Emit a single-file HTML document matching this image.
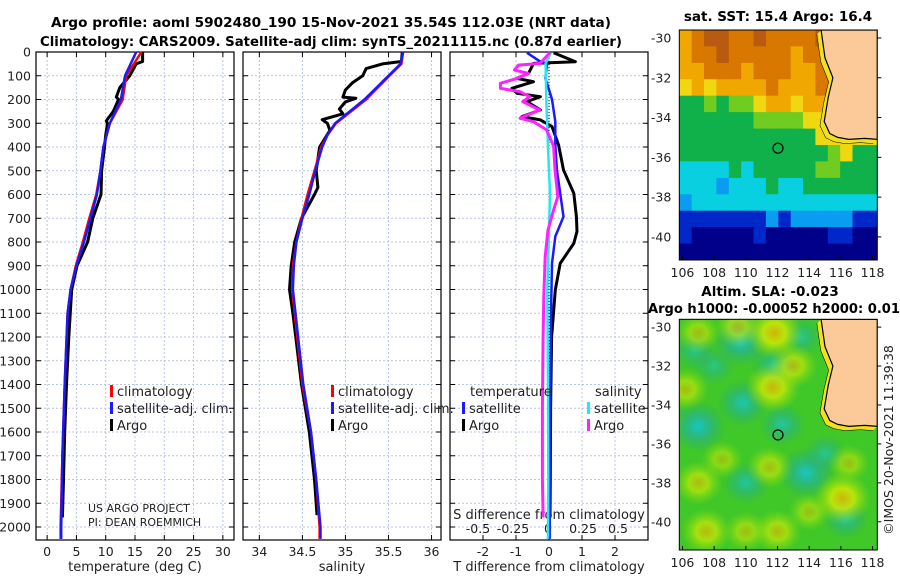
<!DOCTYPE html>
<html><head><meta charset="utf-8">
<style>
html,body{margin:0;padding:0;background:#fff;}
svg{display:block;font-family:"DejaVu Sans","Liberation Sans",sans-serif;}
.t{font-family:"DejaVu Sans","Liberation Sans",sans-serif;font-weight:bold;font-size:13.5px;fill:#000;}
.tk{font-size:12.5px;fill:#222;}
</style></head>
<body>
<svg id="s" width="900" height="580" viewBox="0 0 900 580" xmlns="http://www.w3.org/2000/svg">
<text class="t" x="331" y="27" text-anchor="middle" textLength="560" lengthAdjust="spacingAndGlyphs">Argo profile: aoml 5902480_190 15-Nov-2021 35.54S 112.03E (NRT data)</text>
<text class="t" x="331" y="46" text-anchor="middle" textLength="582" lengthAdjust="spacingAndGlyphs">Climatology: CARS2009. Satellite-adj clim: synTS_20211115.nc (0.87d earlier)</text>
<text class="t" x="778" y="21" text-anchor="middle">sat. SST: 15.4 Argo: 16.4</text>
<text class="t" x="770" y="296" text-anchor="middle">Altim. SLA: -0.023</text>
<text class="t" x="774" y="313" text-anchor="middle" textLength="252" lengthAdjust="spacingAndGlyphs">Argo h1000: -0.00052 h2000: 0.01</text>
<text x="893" y="440" font-size="12.5" fill="#222" transform="rotate(-90 893 440)" text-anchor="middle">©IMOS 20-Nov-2021 11:39:38</text>
<g id="g"></g>
</svg>
<script>
// ---- profile data (depth m) ----
const tClimDepth=[0,100,200,300,400,500,600,700,800,900,1000,1100,1400,1700,2000,2050];
const tClimVal=[16.1,13.5,12.9,10.7,9.6,9.1,8.4,7.2,6.1,4.9,4.0,3.5,3.0,2.6,2.3,2.3];
const tSatVal=[15.2,13.3,12.6,10.7,9.6,9.1,8.5,7.4,6.3,5.0,4.0,3.5,3.0,2.6,2.4,2.4];
const tArgoDepth=[0,40,50,100,150,190,200,250,290,300,350,400,500,600,700,800,900,1000,1200,1400,1600,1800,1960];
const tArgoVal=[16.3,16.3,15.2,14.1,12.4,11.8,12.2,11.3,10.1,10.3,10.0,9.8,9.3,9.2,7.8,6.9,5.1,4.2,3.7,3.3,3.0,2.8,2.6];
const sClimDepth=[0,50,100,200,300,350,400,500,600,700,800,900,1000,1100,1400,1600,1800,2000,2050];
const sClimVal=[35.67,35.65,35.51,35.24,34.89,34.79,34.72,34.64,34.56,34.49,34.43,34.39,34.38,34.41,34.50,34.60,34.66,34.70,34.70];
const sSatVal=[35.67,35.64,35.50,35.22,34.88,34.79,34.73,34.65,34.58,34.50,34.43,34.40,34.39,34.42,34.51,34.60,34.66,34.71,34.71];
const sArgoDepth=[0,40,50,70,100,130,160,190,195,210,240,260,285,300,330,400,500,570,600,700,800,900,1000,1100,1400,1600,1800,1950];
const sArgoVal=[35.66,35.65,35.43,35.24,35.2,35.08,35.0,34.97,35.12,35.0,34.93,34.97,34.73,34.79,34.82,34.70,34.66,34.68,34.64,34.49,34.41,34.37,34.35,34.39,34.49,34.58,34.64,34.67];
const dTArgoDepth=[3,41,48,90,111,125,153,174,188,209,244,272,286,314,392,497,595,693,756,806,890,1002,1200,1500,1800,1960];
const dTArgoVal=[0.14,0.8,-0.47,-0.62,-0.97,-0.47,-1.12,-0.97,-0.26,-0.67,-0.26,-0.82,-0.26,0.09,0.29,0.44,0.75,0.83,0.85,0.75,0.34,0.19,0.08,0.05,0.04,0.03];
const dTSatDepth=[3,41,48,111,199,293,392,497,595,693,777,890,1100,1500,2000,2050];
const dTSatVal=[-0.67,-0.26,-0.06,-0.11,0.09,0.19,0.19,0.24,0.34,0.44,0.19,0.09,0.06,0.04,0.02,0.02];
const dSArgoDepth=[3,48,55,76,90,111,132,153,167,188,209,244,279,293,328,397,497,609,665,749,861,1030,1200,1500,1800,1960];
const dSArgoVal=[0.014,-0.057,-0.21,-0.24,-0.14,-0.22,-0.34,-0.34,-0.2,-0.13,-0.18,-0.06,-0.2,-0.105,-0.01,0.04,0.05,0.07,0.04,0.0,-0.02,-0.03,-0.035,-0.04,-0.04,-0.035];
const dSSatDepth=[3,48,200,400,600,800,1000,1400,1800,2050];
const dSSatVal=[0.02,-0.017,-0.012,0.0,0.014,0.005,-0.005,0.0,0.002,0.0];
const depthTicks=[0,100,200,300,400,500,600,700,800,900,1000,1100,1200,1300,1400,1500,1600,1700,1800,1900,2000];
const tTicks=[0,5,10,15,20,25,30];
const sTicks=[34,34.5,35,35.5,36];
const dTTicks=[-2,-1,0,1,2];
const dSTickVals=[-0.5,-0.25,0,0.25,0.5];
const dSTickLabels=["-0.5","-0.25","0","0.25","0.5"];
// ---- SST map grid (colour index 0..9, -1 land), rows lat -30.0 .. -40.8, cols lon 106.2 .. 118.0
const sstGrid=[
[7,8,9,9,8,8,9,8,8,8,8,9,-1,-1,-1,-1],
[7,8,8,9,8,8,8,8,8,7,8,8,-1,-1,-1,-1],
[7,7,8,8,8,7,8,8,8,7,7,8,-1,-1,-1,-1],
[6,7,6,7,7,7,7,8,7,7,7,8,-1,-1,-1,-1],
[4,4,5,4,5,5,6,7,7,6,7,7,-1,-1,-1,-1],
[4,4,4,4,4,4,5,5,5,5,6,6,6,-1,-1,-1],
[4,4,4,4,4,4,4,4,4,4,4,6,6,6,6,6],
[4,4,4,4,4,4,4,4,4,4,4,4,5,6,4,4],
[3,3,3,3,4,3,4,4,4,4,4,5,5,4,4,4],
[3,3,3,2,3,3,3,4,3,3,4,4,4,4,4,4],
[2,3,3,3,3,3,3,3,3,3,3,3,3,3,3,3],
[1,1,1,1,1,1,1,2,1,2,2,2,2,2,1,1],
[1,0,0,0,0,0,1,0,0,0,0,0,1,1,0,0],
[0,0,0,0,0,0,0,0,0,0,0,0,0,0,0,0]];
const sstPalette=["#00008a","#0028c8","#0a9cf0","#08d0e0","#10b04a","#70cc20","#f0d810","#f0a800","#d87800","#b85a10"];
// SLA anomaly blobs
const slaLon=[109.7,107,109.8,111.8,112.3,113.8,110,116.3,106.8,108,113.5,115,111.8,111.7,107,113,116.1,112,107.5,111.5,107,106.2,109.5,110,114,116.5,108.5];
const slaLat=[-30.7,-35.1,-33.9,-32,-35,-37.5,-38,-39.8,-31.2,-32,-30.5,-36.5,-30.3,-33.1,-38,-32,-38.8,-40.5,-40.5,-37.2,-30.3,-33.2,-30,-40.5,-39.5,-37,-36.8];
const slaVal=[-1,-1,-0.8,-0.6,-0.6,-1,-0.6,-0.6,-0.4,-0.3,-0.4,-0.4,1,0.9,0.6,0.6,1,0.6,0.7,0.5,0.4,0.5,0.5,0.4,0.3,0.3,0.3];
// coastline (lon, lat)
const coastLon=[114.75,115.0,115.5,115.2,114.95,115.3,115.8,116.5,117.5,118.3];
const coastLat=[-29.6,-31.0,-32.0,-33.0,-34.2,-34.8,-35.0,-35.1,-35.05,-35.1];
const floatLon=112.03, floatLat=-35.54;

const NS="http://www.w3.org/2000/svg";
const G=document.getElementById('g');
function el(tag,attrs,parent){const e=document.createElementNS(NS,tag);for(const k in attrs)e.setAttribute(k,attrs[k]);(parent||G).appendChild(e);return e;}
function txt(x,y,s,attrs,parent){const e=el('text',Object.assign({x:x,y:y},attrs||{}),parent);e.textContent=s;return e;}

const Y0=52, PY=0.2375, BOT=540;
const yD=d=>Y0+d*PY;
const panels=[
 {x0:36,x1:234,lo:-1.9,hi:31.9,ticks:tTicks,name:'temperature-panel'},
 {x0:243,x1:441,lo:33.81,hi:36.11,ticks:sTicks,name:'salinity-panel'},
 {x0:450,x1:648,lo:-3.0,hi:3.0,ticks:dTTicks,name:'difference-panel'}];
panels.forEach(p=>{p.f=v=>p.x0+(v-p.lo)/(p.hi-p.lo)*(p.x1-p.x0);});
const xT=panels[0].f, xS=panels[1].f, xdT=panels[2].f;
const xdS=v=>548+v*140;

panels.forEach((p,i)=>{
  const g=el('g',{});
  
  
  p.ticks.forEach(t=>{
    const x=p.f(t);
    const l=el('line',{x1:x,x2:x,y1:Y0,y2:BOT,stroke:'#b8c4e8','stroke-width':1,'stroke-dasharray':'2,2'},g);
    
    el('line',{x1:x,x2:x,y1:BOT,y2:BOT-5,stroke:'#000'},g);el('line',{x1:x,x2:x,y1:Y0,y2:Y0+5,stroke:'#000'},g);
    const lab=txt(x,556,String(t),{class:'tk','text-anchor':'middle'},g);
    
  });
  depthTicks.forEach(d=>{
    const y=yD(d);
    el('line',{x1:p.x0,x2:p.x1,y1:y,y2:y,stroke:'#b8c4e8','stroke-width':1,'stroke-dasharray':'2,2'},g);
    el('line',{x1:p.x0,x2:p.x0+5,y1:y,y2:y,stroke:'#000'},g);el('line',{x1:p.x1-5,x2:p.x1,y1:y,y2:y,stroke:'#000'},g);
  });
  const fr=el('rect',{x:p.x0,y:Y0,width:p.x1-p.x0,height:BOT-Y0,fill:'none',stroke:'#000','stroke-width':1.2},g);
  
});
depthTicks.forEach(d=>{
  const l=txt(31,yD(d)+4.5,String(d),{class:'tk','text-anchor':'end'});
  
});
dSTickVals.forEach((v,i)=>{
  const l=txt(xdS(v),533,dSTickLabels[i],{class:'tk','text-anchor':'middle'});
  
});
let a;
a=txt(135,571,'temperature (deg C)',{'font-size':13,'text-anchor':'middle',fill:'#222'});
a=txt(342,571,'salinity',{'font-size':13,'text-anchor':'middle',fill:'#222'});
a=txt(549,571,'T difference from climatology',{'font-size':13,'text-anchor':'middle',fill:'#222'});
a=txt(549,519,'S difference from climatology',{'font-size':13,'text-anchor':'middle',fill:'#222'});
a=txt(88,512,'US ARGO PROJECT',{'font-size':11,fill:'#222'});
a=txt(88,526,'PI: DEAN ROEMMICH',{'font-size':11,fill:'#222'});

el('line',{x1:xdT(0),x2:xdT(0),y1:Y0,y2:BOT,stroke:'#000','stroke-width':1,'stroke-dasharray':'1,2'});

function line(depths,vals,fx,color,w,name){
  const pts=depths.map((d,i)=>fx(vals[i]).toFixed(1)+','+yD(d).toFixed(1)).join(' ');
  const e=el('polyline',{points:pts,fill:'none',stroke:color,'stroke-width':w,'stroke-linejoin':'round'});
  
  
}
line(tArgoDepth,tArgoVal,xT,'#000',3,'temp-argo-line');
line(tClimDepth,tClimVal,xT,'#f00',2.5,'temp-climatology-line');
line(tClimDepth,tSatVal,xT,'#1a1aff',2.5,'temp-satellite-line');
line(sArgoDepth,sArgoVal,xS,'#000',3,'sal-argo-line');
line(sClimDepth,sClimVal,xS,'#f00',2.5,'sal-climatology-line');
line(sClimDepth,sSatVal,xS,'#1a1aff',2.5,'sal-satellite-line');
line(dTArgoDepth,dTArgoVal,xdT,'#000',3,'t-diff-argo-line');
line(dTSatDepth,dTSatVal,xdT,'#1a1aff',2.5,'t-diff-satellite-line');
line(dSSatDepth,dSSatVal,xdS,'#22e8f0',2.5,'s-diff-satellite-line');
line(dSArgoDepth,dSArgoVal,xdS,'#ff22ff',3,'s-diff-argo-line');

function legend(x,y,color,label,name){
  const g=el('g',{});
  
  
  el('rect',{x:x,y:y-10,width:3,height:12,fill:color},g);
  txt(x+7,y+1,label,{'font-size':13,fill:'#222'},g);
}
legend(110,395,'#f00','climatology','legend-temp-climatology');
legend(110,412,'#1a1aff','satellite-adj. clim.','legend-temp-satellite');
legend(110,429,'#000','Argo','legend-temp-argo');
legend(331,395,'#f00','climatology','legend-sal-climatology');
legend(331,412,'#1a1aff','satellite-adj. clim.','legend-sal-satellite');
legend(331,429,'#000','Argo','legend-sal-argo');
a=txt(470,396,'temperature',{'font-size':13,fill:'#222'});
a=txt(595,396,'salinity',{'font-size':13,fill:'#222'});
legend(462,412,'#1a1aff','satellite','legend-diff-t-satellite');
legend(462,429,'#000','Argo','legend-diff-t-argo');
legend(587,412,'#22e8f0','satellite','legend-diff-s-satellite');
legend(587,429,'#ff22ff','Argo','legend-diff-s-argo');

// ---- maps ----
const MX0=679.3, MX1=877.3, LON0=105.8, LON1=118.3;
const mx=lon=>MX0+(lon-LON0)/(LON1-LON0)*(MX1-MX0);
const sTop=30,sBot=260,sLatTop=-29.6,sLatBot=-41.16;
const myS=lat=>sTop+(sLatTop-lat)/(sLatTop-sLatBot)*(sBot-sTop);
const sstG=el('g',{});


el('clipPath',{id:'cs'},sstG);
el('rect',{x:MX0,y:sTop,width:MX1-MX0,height:sBot-sTop},document.getElementById('cs'));
const sstCells=el('g',{'clip-path':'url(#cs)'},sstG);
const nR=sstGrid.length,nC=sstGrid[0].length;
const cw=(LON1-LON0)/nC, ch=(sLatBot-sLatTop)/nR;
el('rect',{x:MX0,y:sTop,width:MX1-MX0,height:sBot-sTop,fill:'#fbca98'},sstCells);
sstGrid.forEach((row,r)=>row.forEach((v,c)=>{
  if(v<0)return;
  const x=mx(LON0+c*cw), y=myS(sLatTop+r*ch);
  const cell=el('rect',{x:x.toFixed(1),y:y.toFixed(1),width:(mx(LON0+(c+1)*cw)-x+0.6).toFixed(1),height:(myS(sLatTop+(r+1)*ch)-y+0.6).toFixed(1),fill:sstPalette[v]},sstCells);
  
  
}));
const bTop=319.3,bBot=550,bLatTop=-29.6,bLatBot=-41.45;
const myB=lat=>bTop+(bLatTop-lat)/(bLatTop-bLatBot)*(bBot-bTop);
const slaG=el('g',{});


const defs=el('defs',{},slaG);
const gp=el('radialGradient',{id:'gpos'},defs);
el('stop',{offset:'0','stop-color':'#f0b000','stop-opacity':0.9},gp);
el('stop',{offset:'0.4','stop-color':'#e8f000','stop-opacity':0.8},gp);
el('stop',{offset:'1','stop-color':'#a0e000','stop-opacity':0},gp);
const gn=el('radialGradient',{id:'gneg'},defs);
el('stop',{offset:'0','stop-color':'#10c8e0','stop-opacity':0.95},gn);
el('stop',{offset:'0.45','stop-color':'#20b0a0','stop-opacity':0.7},gn);
el('stop',{offset:'1','stop-color':'#28a870','stop-opacity':0},gn);
el('clipPath',{id:'cb'},slaG);
el('rect',{x:MX0,y:bTop,width:MX1-MX0,height:bBot-bTop},document.getElementById('cb'));
const slaC=el('g',{'clip-path':'url(#cb)'},slaG);
el('rect',{x:MX0,y:bTop,width:MX1-MX0,height:bBot-bTop,fill:'#40c828'},slaC);
slaLon.forEach((lon,i)=>{
  const v=slaVal[i];
  const r=16+Math.abs(v)*10;
  const b=el('ellipse',{cx:mx(lon),cy:myB(slaLat[i]),rx:r*1.1,ry:r,fill:v>0?'url(#gpos)':'url(#gneg)',opacity:Math.min(1,0.4+Math.abs(v)*0.5)},slaC);
  
  
});

function drawCoast(parent,my,top){
  const cp=coastLon.map((l,i)=>mx(l).toFixed(1)+','+my(coastLat[i]).toFixed(1));
  const shelf=coastLon.map((l,i)=>(mx(l)-4).toFixed(1)+','+(my(coastLat[i])+4).toFixed(1));
  el('polyline',{points:shelf.join(' '),fill:'none',stroke:'#000','stroke-width':1},parent);
  el('polygon',{points:shelf.join(' ')+' '+cp.slice().reverse().join(' '),fill:'#f0e020'},parent);
  const land=el('polygon',{points:cp.join(' ')+' '+MX1+','+top+' '+cp[0],fill:'#fbca98',stroke:'#000','stroke-width':1.2},parent);
  
  
}
drawCoast(sstCells,myS,sTop);
drawCoast(slaC,myB,bTop);
let fm=el('circle',{cx:mx(floatLon),cy:myS(floatLat),r:5,fill:'#10b04a',stroke:'#000','stroke-width':1.2});

fm=el('circle',{cx:mx(floatLon),cy:myB(floatLat),r:5,fill:'none',stroke:'#000','stroke-width':1.2});


const mapLonTicks=[106,108,110,112,114,116,118];
const mapLatTicks=[-30,-32,-34,-36,-38,-40];
[[sTop,sBot,myS,'sst'],[bTop,bBot,myB,'sla']].forEach(([t,b,my,nm])=>{
  el('rect',{x:MX0,y:t,width:MX1-MX0,height:b-t,fill:'none',stroke:'#000','stroke-width':1});
  mapLonTicks.forEach(lon=>{
    el('line',{x1:mx(lon),x2:mx(lon),y1:b,y2:b-4,stroke:'#000'});
    const l=txt(mx(lon),b+17,String(lon),{class:'tk','text-anchor':'middle'});
    
  });
  mapLatTicks.forEach(lat=>{
    el('line',{x1:MX1,x2:MX1+4,y1:my(lat),y2:my(lat),stroke:'#000'});
    const l=txt(MX0-8,my(lat)+4.5,String(lat),{class:'tk','text-anchor':'end'});
    
  });
});
</script>
</body></html>
